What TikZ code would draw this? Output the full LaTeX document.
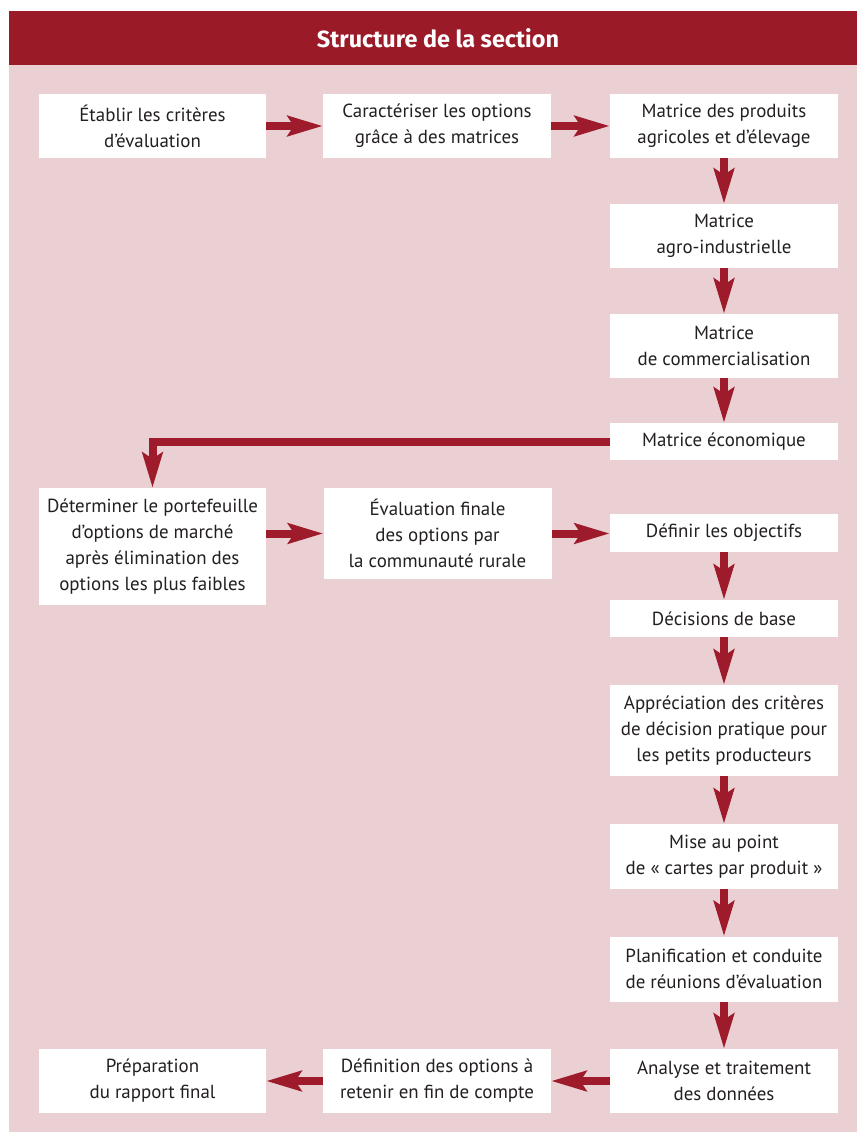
\documentclass[tikz,border=0pt]{standalone}
\usepackage{fontspec}
\setmainfont{PT Sans}
\newfontfamily\titlefont{Fira Sans}
\usetikzlibrary{arrows.meta}
\definecolor{hdr}{HTML}{9A1A27}
\definecolor{arr}{HTML}{9E1B2C}
\definecolor{pinkbg}{HTML}{EBD0D3}
\definecolor{txt}{HTML}{231F20}
\begin{document}
\begin{tikzpicture}[x=1bp,y=-1bp,
  box/.style={fill=white, inner sep=0pt, align=center, text=txt,
    font=\fontsize{19}{26}\selectfont},
  wa/.style={minimum width=227bp},
  wb/.style={minimum width=228bp},
  flow/.style={draw=arr, line width=8bp, line join=miter,
    -{Stealth[length=35bp,width=20bp,inset=6bp]}}]
\useasboundingbox (0,0) rectangle (857,1133);
\fill[pinkbg] (9,65) rectangle (857,1132);
\fill[hdr] (9,11) rectangle (857,65);
\node[text=white, font=\titlefont\bfseries\fontsize{23.5}{26}\selectfont] (title) at (438,38.5) {Structure de la section};

\node[box, wa, minimum height=64bp] (A) at (152.5,126) {Établir les critères\\d’évaluation};
\node[box, wb, minimum height=64bp] (B) at (437,126) {Caractériser les options\\grâce à des matrices};
\node[box, wb, minimum height=64bp] (C) at (724,126) {Matrice des produits\\agricoles et d’élevage};
\node[box, wb, minimum height=64bp] (D) at (724,236) {Matrice\\agro-industrielle};
\node[box, wb, minimum height=64bp] (E) at (724,346) {Matrice\\de commercialisation};
\node[box, wb, minimum height=37bp] (F) at (724,441.5) {Matrice économique};
\node[box, wa, minimum height=117bp] (G) at (152.5,546.5) {Déterminer le portefeuille\\d’options de marché\\après élimination des\\options les plus faibles};
\node[box, wb, minimum height=91bp] (H) at (437.5,533.5) {Évaluation finale\\des options par\\la communauté rurale};
\node[box, wb, minimum height=38bp] (I) at (724,532.5) {Définir les objectifs};
\node[box, wb, minimum height=37bp] (J) at (724,618.5) {Décisions de base};
\node[box, wb, minimum height=91bp] (K) at (724,730.5) {Appréciation des critères\\de décision pratique pour\\les petits producteurs};
\node[box, wb, minimum height=65bp] (L) at (724,856.5) {Mise au point\\de «~cartes par produit~»};
\node[box, wb, minimum height=65bp] (M) at (724,969) {Planification et conduite\\de réunions d’évaluation};
\node[box, wb, minimum height=64bp] (N) at (724,1081) {Analyse et traitement\\des données};
\node[box, wb, minimum height=64bp] (O) at (437,1081) {Définition des options à\\retenir en fin de compte};
\node[box, wa, minimum height=64bp] (P) at (152.5,1081) {Préparation\\du rapport final};

\draw[flow] (A) -- (B);
\draw[flow] (B) -- (C);
\draw[flow] (C) -- (D);
\draw[flow] (D) -- (E);
\draw[flow] (E) -- (F);
\draw[flow] (F.west) -- (F.west -| G.north) -- (G.north);
\draw[flow] (G.east |- H.west) -- (H.west);
\draw[flow] (H.east) -- (H.east -| I.west);
\draw[flow] (I) -- (J);
\draw[flow] (J) -- (K);
\draw[flow] (K) -- (L);
\draw[flow] (L) -- (M);
\draw[flow] (M) -- (N);
\draw[flow] (N) -- (O);
\draw[flow] (O) -- (P);
\end{tikzpicture}
\end{document}
